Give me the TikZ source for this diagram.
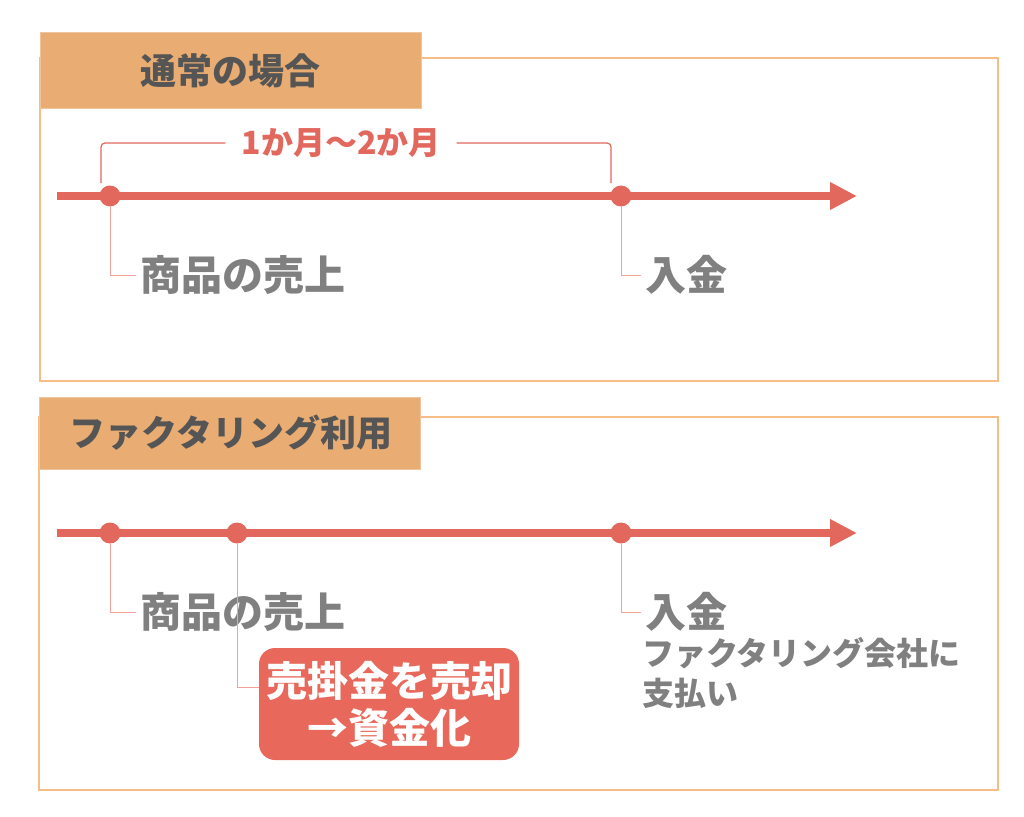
\documentclass[tikz,border=0pt]{standalone}
\usepackage{fontspec}
\setmainfont{Noto Sans CJK JP}
\usetikzlibrary{arrows.meta,positioning}
\definecolor{frameline}{HTML}{F6BD86}
\definecolor{tabfill}{HTML}{E9AC72}
\definecolor{linered}{HTML}{E2685E}
\definecolor{stemline}{HTML}{F2A29B}
\definecolor{boxfill}{HTML}{E8695B}
\definecolor{darktext}{HTML}{555555}
\definecolor{greytext}{HTML}{808080}

\begin{document}
\begin{tikzpicture}[x=1pt,y=-1pt,
		frame/.style={draw=frameline,line width=1.5pt},
		tab/.style={fill=tabfill,draw=tabfill!70!white,line width=1pt},
		heading/.style={text=darktext,font=\fontsize{36}{40}\selectfont\bfseries},
		axis/.style={draw=linered,line width=8pt,-{Triangle[length=27pt,width=26pt]}},
		event/.style={circle,fill=linered,minimum size=21pt,inner sep=0pt},
		stem/.style={draw=stemline,line width=1pt},
		bracket/.style={draw=linered,line width=1.2pt,rounded corners=4pt},
		spantext/.style={text=linered,inner xsep=16pt,font=\fontsize{32}{36}\selectfont\bfseries},
		eventtext/.style={anchor=west,text=greytext,inner xsep=4pt,inner ysep=0pt,font=\fontsize{41}{44}\selectfont\bfseries},
		notetext/.style={anchor=west,align=left,text=greytext,inner sep=0pt,font=\fontsize{32}{40}\selectfont\bfseries},
		cashbox/.style={fill=boxfill,rounded corners=16pt,text=white,align=center,minimum width=260pt,minimum height=112pt,inner sep=0pt,font=\fontsize{41}{47}\selectfont\bfseries}
	]
	\fill[white] (0,0) rectangle (1024,816);
	\useasboundingbox (0,0) rectangle (1024,816);

	\draw[frame] (40,58) rectangle (998,381);
	\draw[tab] (40,33) rectangle (421,108);
	\node[heading] (normal) at (230,71) {通常の場合};

	\draw[axis] (57,196) -- (857,196);
	\node[event] (sale) at (110,196) {};
	\node[event] (pay) at (621,196) {};

	\node[spantext] (span) at (341,143) {1か月～2か月};
	\coordinate (spanL) at (101,183);
	\coordinate (spanR) at (611,183);
	\draw[bracket] (span.west) -| (spanL);
	\draw[bracket] (span.east) -| (spanR);

	\node[eventtext] (saletext) at (136,275) {商品の売上};
	\draw[stem] (sale) |- (saletext.west);
	\node[eventtext] (paytext) at (641,275) {入金};
	\draw[stem] (pay) |- (paytext.west);

	\draw[frame] (39,417) rectangle (998,790);
	\draw[tab] (39,397) rectangle (420,469);
	\node[heading] (factor) at (231,433) {ファクタリング利用};

	\draw[axis] (57,533) -- (857,533);
	\node[event] (sale2) at (110,533) {};
	\node[event] (sell2) at (237,533) {};
	\node[event] (pay2) at (621,533) {};

	\node[eventtext] (saletext2) at (136,612) {商品の売上};
	\draw[stem] (sale2) |- (saletext2.west);
	\node[cashbox] (cash) at (389,704) {売掛金を売却\\→資金化};
	\draw[stem] (sell2) |- ([yshift=17pt]cash.west);
	\node[eventtext] (paytext2) at (641,612) {入金};
	\draw[stem] (pay2) |- (paytext2.west);
	\node[notetext] (note) at (642,673) {ファクタリング会社に\\支払い};
\end{tikzpicture}
\end{document}
